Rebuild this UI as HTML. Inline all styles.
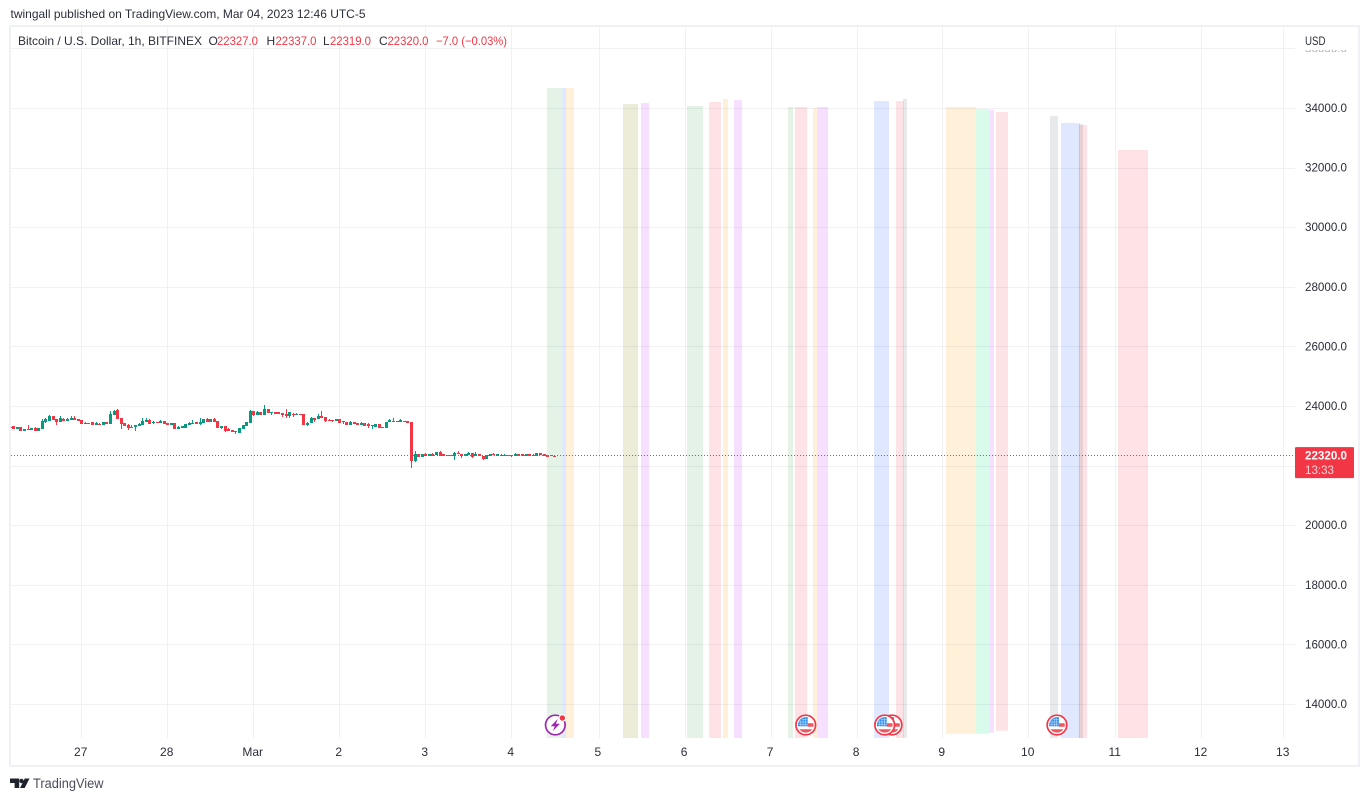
<!DOCTYPE html>
<html lang="en">
<head>
<meta charset="utf-8">
<title>Bitcoin / U.S. Dollar chart</title>
<style>
html,body{margin:0;padding:0;background:#fff;width:1369px;height:801px;overflow:hidden}
svg{display:block;font-family:"Liberation Sans",sans-serif}
text{fill:#2a2e39;font-size:12px}
.red{fill:#f23645}
</style>
</head>
<body>
<svg id="chart" xmlns="http://www.w3.org/2000/svg" width="1369" height="801" viewBox="0 0 1369 801">
  <defs>
    <clipPath id="plot-clip"><rect x="11" y="27" width="1284" height="711"/></clipPath>
    <clipPath id="top-tick-clip"><rect x="1300" y="50" width="55" height="2"/></clipPath>
  </defs>
  <rect x="0" y="0" width="1369" height="801" fill="#fff"/>
  <text x="10.5" y="18" textLength="355" lengthAdjust="spacingAndGlyphs">twingall published on TradingView.com, Mar 04, 2023 12:46 UTC-5</text>
  <g id="grid"></g>
  <g id="candles" clip-path="url(#plot-clip)"></g>
  <g id="regions"></g>
  <line id="last-line" x1="11" x2="1295" stroke="#f23645" stroke-width="1" stroke-dasharray="1 2"/>
  <g id="y-axis"></g>
  <g id="x-axis"></g>
  <g id="events"></g>
  <rect x="10" y="26" width="1349" height="740" fill="none" stroke="#f0f1f6" stroke-width="2"/>

  <g>
    <text x="18" y="45" textLength="184" lengthAdjust="spacingAndGlyphs">Bitcoin / U.S. Dollar, 1h, BITFINEX</text>
    <text x="208.5" y="45">O</text>
    <text class="red" x="217" y="45" textLength="41" lengthAdjust="spacingAndGlyphs">22327.0</text>
    <text x="266.5" y="45">H</text>
    <text class="red" x="275.5" y="45" textLength="41" lengthAdjust="spacingAndGlyphs">22337.0</text>
    <text x="323" y="45">L</text>
    <text class="red" x="330" y="45" textLength="41" lengthAdjust="spacingAndGlyphs">22319.0</text>
    <text x="379" y="45">C</text>
    <text class="red" x="387.5" y="45" textLength="41" lengthAdjust="spacingAndGlyphs">22320.0</text>
    <text class="red" x="436" y="45" textLength="71" lengthAdjust="spacingAndGlyphs">−7.0 (−0.03%)</text>
  </g>

  <text x="1305" y="45" textLength="20.5" lengthAdjust="spacingAndGlyphs">USD</text>

  <g>
    <rect id="price-tag" x="1295" width="59" height="31" rx="1" fill="#f23645"/>
    <text id="price-tag-value" x="1305" style="fill:#fff;font-weight:bold" textLength="42" lengthAdjust="spacingAndGlyphs">22320.0</text>
    <text id="price-tag-timer" x="1305" style="fill:#fdd5d9" textLength="29" lengthAdjust="spacingAndGlyphs">13:33</text>
  </g>

  <g>
    <path fill="#1e222d" d="M10 778.5h9.2v9.5h-4.6v-5h-4.6zM29.5 778.5l-4.8 9.5h-4.7l4.8-9.5z"/>
    <circle cx="21.5" cy="781" r="2.2" fill="#1e222d"/>
    <text x="33" y="788" style="fill:#4a4e59;font-size:13.5px" textLength="70.5" lengthAdjust="spacingAndGlyphs">TradingView</text>
  </g>
</svg>

<script>
// ---- chart data ----
const firstBarHour = -20; // hours relative to 27 Feb 00:00
const opens = [23250,23330,23240,23300,23170,23230,23210,23270,23170,23230,23470,23500,23660,23560,23470,23570,23510,23540,23610,23560,
23530,23400,23420,23450,23360,23400,23370,23450,23400,23700,23880,23610,23420,23360,23310,23280,23340,23360,23460,23540,
23420,23460,23440,23500,23430,23370,23430,23240,23270,23270,23350,23400,23460,23390,23430,23560,23460,23560,23510,23250,
23320,23230,23190,23170,23110,23230,23330,23440,23830,23700,23800,23710,23910,23770,23790,23790,23750,23720,23680,23730,
23710,23730,23720,23360,23430,23600,23550,23680,23640,23540,23530,23510,23560,23450,23460,23360,23470,23430,23360,23430,
23410,23330,23300,23400,23300,23260,23460,23500,23450,23450,23510,23500,23450,22150,22400,22290,22380,22330,22380,22360,
22460,22380,22360,22340,22330,22420,22400,22320,22360,22430,22310,22380,22330,22220,22320,22390,22330,22330,22330,22360,
22360,22330,22390,22390,22330,22390,22330,22330,22420,22390,22340,22330,22327];
const closes = [23280,23240,23300,23170,23230,23190,23260,23170,23260,23500,23550,23680,23530,23470,23610,23510,23570,23610,23540,23510,
23400,23430,23390,23360,23430,23370,23450,23400,23730,23840,23560,23400,23330,23250,23270,23360,23400,23500,23530,23410,
23460,23430,23510,23400,23370,23430,23230,23300,23320,23400,23430,23440,23400,23450,23560,23460,23560,23470,23270,23330,
23170,23170,23140,23120,23250,23350,23460,23840,23700,23810,23710,23900,23780,23800,23740,23740,23700,23660,23790,23700,
23740,23720,23360,23430,23610,23540,23680,23610,23510,23520,23510,23550,23440,23490,23360,23470,23410,23360,23440,23340,
23320,23350,23390,23270,23260,23460,23520,23450,23500,23520,23450,23440,22150,22380,22290,22380,22330,22380,22330,22460,
22330,22320,22320,22330,22430,22380,22320,22380,22430,22290,22400,22310,22220,22340,22390,22340,22390,22360,22360,22320,
22320,22390,22330,22330,22390,22330,22370,22420,22360,22330,22290,22360,22320];
const highs = [23280,23330,23300,23300,23230,23360,23270,23290,23260,23560,23590,23700,23670,23560,23650,23590,23600,23680,23650,23560,
23530,23450,23430,23450,23450,23430,23450,23450,23830,23880,23900,23610,23420,23400,23360,23360,23420,23590,23590,23560,
23500,23470,23530,23500,23430,23430,23430,23320,23340,23400,23450,23530,23470,23590,23560,23610,23560,23590,23510,23340,
23320,23250,23190,23170,23250,23350,23460,23870,23830,23830,23800,24030,23910,23800,23790,23790,23750,23900,23810,23770,
23770,23730,23720,23470,23630,23600,23720,23840,23640,23560,23530,23550,23560,23510,23460,23500,23470,23430,23470,23430,
23430,23350,23390,23400,23300,23460,23550,23590,23500,23560,23510,23500,23450,22490,22400,22380,22420,22380,22420,22460,
22490,22380,22360,22340,22470,22490,22400,22380,22470,22430,22450,22380,22330,22340,22390,22420,22390,22400,22380,22360,
22360,22420,22390,22390,22390,22390,22400,22420,22420,22390,22340,22360,22337];
const lows = [23240,23240,23240,23170,23170,23190,23200,23170,23170,23230,23440,23500,23530,23360,23470,23500,23490,23540,23540,23510,
23400,23390,23380,23360,23360,23370,23370,23400,23400,23700,23560,23230,23330,23190,23270,23170,23340,23360,23460,23410,
23400,23420,23440,23400,23370,23370,23230,23240,23270,23270,23350,23400,23400,23360,23430,23460,23460,23470,23270,23240,
23120,23170,23140,23070,23110,23230,23330,23440,23680,23700,23710,23710,23780,23700,23740,23740,23640,23610,23610,23630,
23710,23720,23360,23340,23430,23470,23550,23610,23470,23520,23470,23510,23440,23410,23360,23360,23410,23360,23360,23340,
23270,23230,23300,23270,23260,23260,23460,23450,23450,23450,23450,23440,21930,22130,22290,22290,22330,22330,22330,22360,
22330,22320,22320,22330,22190,22380,22240,22320,22360,22240,22310,22310,22190,22220,22320,22340,22330,22330,22330,22320,
22280,22330,22330,22330,22330,22330,22330,22330,22360,22330,22290,22330,22319];

const lastPrice = 22320;

const priceTicks = [14000,16000,18000,20000,22000,24000,26000,28000,30000,32000,34000];
const clippedPriceTick = 36000;
const timeLabels = ['27','28','Mar','2','3','4','5','6','7','8','9','10','11','12','13'];
const timeTickDays = [0,1,2,3,4,5,6.014,7.016,8.016,9.016,10.012,11.012,12.023,13.023,13.977];

const regionStartDays = [5.415,5.593,5.636,6.299,6.508,7.043,7.299,7.461,7.590,8.218,8.299,8.508,8.555,9.218,9.473,9.555,10.055,10.404,10.560,10.636,11.264,11.392,11.601,11.601,12.055];
const regionEndDays   = [5.593,5.636,5.729,6.474,6.601,7.229,7.438,7.520,7.683,8.276,8.439,8.555,8.683,9.392,9.566,9.601,10.404,10.560,10.613,10.776,11.357,11.613,11.648,11.694,12.404];
const regionTopPrices = [34671,34671,34671,34134,34168,34067,34201,34302,34268,34034,34034,34000,34034,34235,34235,34302,34034,33966,33933,33866,33732,33497,33463,33430,32591];
const regionBottomPrices = [12859,12859,12859,12859,12859,12859,12859,12859,12859,12859,12859,12859,12859,12859,12859,12859,13003,13003,13037,13104,12859,12859,12859,12859,12859];
const regionKinds = ['green','blue','orange','olive','violet','green','red','orange','violet','green','red','orange','violet','blue','red','grey','orange','mint','violet','red','grey','blue','grey','red','red'];

const flagEventDays = [9.427,9.342,8.424,11.345];
const boltEventDay = 5.512;
</script>
<script>
// ---- axis functions ----
const NS = 'http://www.w3.org/2000/svg';
function xOfHour(h){ return 81.3 + h * 86 / 24; }
function xOfDay(d){ return 81.3 + d * 86; }
function yOfPrice(p){ return 108 + (34000 - p) * 0.0298; }
function mk(tag, attrs, parent){
  const el = document.createElementNS(NS, tag);
  for (const k in attrs) el.setAttribute(k, attrs[k]);
  parent.appendChild(el);
  return el;
}
const regionFills = {
  green:'rgba(76,175,80,0.15)', blue:'rgba(41,98,255,0.15)', orange:'rgba(255,152,0,0.15)',
  olive:'rgba(128,128,0,0.15)', violet:'rgba(195,35,255,0.14)', red:'rgba(242,54,69,0.14)',
  mint:'rgba(0,230,118,0.15)', grey:'rgba(120,123,134,0.17)'
};
const gridColor = '#f1f1f4';

// grid
const gridG = document.getElementById('grid');
timeTickDays.forEach(function(d){
  const x = Math.round(xOfDay(d)) + 0.5;
  const el = mk('line', {x1:x, x2:x, y1:27, y2:738, stroke:gridColor, 'stroke-width':1}, gridG);
  
  
});
priceTicks.concat([clippedPriceTick]).forEach(function(p){
  const y = Math.round(yOfPrice(p)) + 0.5;
  const el = mk('line', {x1:11, x2:1295, y1:y, y2:y, stroke:gridColor, 'stroke-width':1}, gridG);
  
  
});

// candles, snapped to whole pixels so the bodies stay crisp
const candleG = document.getElementById('candles');
closes.forEach(function(c, i){
  const o = opens[i];
  const up = c >= o;
  const col = up ? '#089981' : '#f23645';
  const cx = Math.round(xOfHour(firstBarHour + i));
  const wickTop = Math.round(yOfPrice(highs[i]));
  const wickBot = Math.round(yOfPrice(lows[i]));
  const wick = mk('rect', {x:cx, y:wickTop, width:1, height:Math.max(1, wickBot - wickTop), fill:col}, candleG);
  
  
  const top = Math.round(yOfPrice(Math.max(o, c)));
  const bot = Math.round(yOfPrice(Math.min(o, c)));
  const body = mk('rect', {x:cx - 1, y:top, width:3, height:Math.max(1, bot - top), fill:col}, candleG);
  
  
});

// shaded regions
const regionG = document.getElementById('regions');
regionStartDays.forEach(function(d, i){
  const x1 = xOfDay(d), x2 = xOfDay(regionEndDays[i]);
  const y1 = yOfPrice(regionTopPrices[i]), y2 = yOfPrice(regionBottomPrices[i]);
  const r = mk('rect', {x:x1, y:y1, width:x2 - x1, height:y2 - y1, fill:regionFills[regionKinds[i]]}, regionG);
  
  
});

// last price line and tag
const lastY = yOfPrice(lastPrice) - 0.5;
const lastLine = document.getElementById('last-line');
lastLine.setAttribute('y1', Math.floor(lastY) + 0.5);
lastLine.setAttribute('y2', Math.floor(lastY) + 0.5);
document.getElementById('price-tag').setAttribute('y', lastY - 8.5);
document.getElementById('price-tag-value').setAttribute('y', lastY + 4);
document.getElementById('price-tag-timer').setAttribute('y', lastY + 18.5);

// price axis
const yAxisG = document.getElementById('y-axis');
priceTicks.forEach(function(p){
  const t = mk('text', {x:1305, y:yOfPrice(p) + 4, textLength:42, lengthAdjust:'spacingAndGlyphs'}, yAxisG);
  t.textContent = p.toFixed(1);
  
  
});
const topTick = mk('text', {x:1305, y:yOfPrice(clippedPriceTick) + 4, textLength:42, lengthAdjust:'spacingAndGlyphs', 'clip-path':'url(#top-tick-clip)', opacity:0.4}, yAxisG);
topTick.textContent = clippedPriceTick.toFixed(1);



// time axis
const xAxisG = document.getElementById('x-axis');
timeLabels.forEach(function(lbl, i){
  const t = mk('text', {x:xOfDay(timeTickDays[i]) - 0.6, y:756, 'text-anchor':'middle'}, xAxisG);
  t.textContent = lbl;
  
  
});

// event markers
const eventG = document.getElementById('events');
const markerY = 725;
flagEventDays.forEach(function(d){
  const cx = xOfDay(d);
  const g = mk('g', {transform:'translate(' + cx + ',' + markerY + ')'}, eventG);
  
  
  mk('circle', {r:9.8, fill:'#fff', stroke:'#f23645', 'stroke-width':1.7}, g);
  mk('path', {d:'M2 -1.7H7.6A8 8 0 0 1 7.7 1.7H2Z', fill:'#f0565f'}, g);
  mk('path', {d:'M-6.5 4.3H6.5A8 8 0 0 1 -6.5 4.3Z', fill:'#f0565f'}, g);
  mk('path', {d:'M2 -7.7V1.3H-7.7A8 8 0 0 1 2 -7.7Z', fill:'#2f8fef'}, g);
  mk('path', {d:'M-5 -4.6V1M-2.7 -6.4V1M-0.4 -7V1M-7 -3H2M-7 -0.8H2M-4 -5.2H2', stroke:'#cfe6fb', 'stroke-width':0.5, fill:'none'}, g);
});
(function(){
  const cx = xOfDay(boltEventDay);
  const g = mk('g', {transform:'translate(' + cx + ',' + markerY + ')'}, eventG);
  
  
  mk('circle', {r:9.8, fill:'#fff', stroke:'#9c27b0', 'stroke-width':1.7}, g);
  mk('path', {d:'M2.4 -6L-4.6 1.2H-0.6L-2.4 6L4.6 -1.2H0.6Z', fill:'#9c27b0'}, g);
  mk('circle', {cx:7, cy:-7, r:3.9, fill:'#fff'}, g);
  mk('circle', {cx:7, cy:-7, r:2.7, fill:'#f23645'}, g);
})();
</script>
</body>
</html>
